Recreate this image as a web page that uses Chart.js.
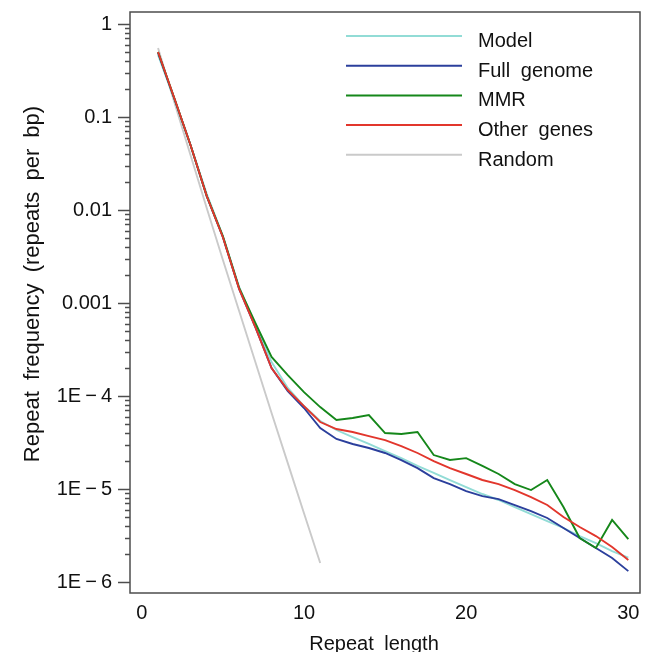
<!DOCTYPE html>
<html>
<head>
<meta charset="utf-8">
<script src="https://cdn.jsdelivr.net/npm/chart.js@4.4.1/dist/chart.umd.min.js"></script>
<style>
  html, body { margin: 0; padding: 0; background: #fff; }
  #wrap { width: 649px; height: 652px; }
</style>
</head>
<body>
<div id="wrap"><canvas id="repeatChart"></canvas></div>
<script>
// repeat length (bp) on x
var repeatLengths = [1,2,3,4,5,6,7,8,9,10,11,12,13,14,15,16,17,18,19,20,21,22,23,24,25,26,27,28,29,30];
var randomLengths = [1,2,3,4,5,6,7,8,9,10,11];

// repeats per bp
var modelFreq = [0.464,0.156,0.050,0.0149,0.00525,0.00149,5.8e-4,2.32e-4,1.22e-4,7.8e-5,
                 5.38e-5,4.31e-5,3.62e-5,3.05e-5,2.56e-5,2.15e-5,1.77e-5,1.49e-5,1.25e-5,1.05e-5,
                 8.84e-6,7.62e-6,6.4e-6,5.38e-6,4.53e-6,3.81e-6,3.12e-6,2.62e-6,2.15e-6,1.83e-6];
var fullGenomeFreq = [0.49,0.158,0.050,0.0141,0.0051,0.00142,5.5e-4,2.0e-4,1.13e-4,7.43e-5,
                 4.53e-5,3.45e-5,3.05e-5,2.76e-5,2.44e-5,2.05e-5,1.68e-5,1.31e-5,1.13e-5,9.5e-6,
                 8.4e-6,7.8e-6,6.73e-6,5.8e-6,4.88e-6,3.81e-6,2.97e-6,2.32e-6,1.81e-6,1.31e-6];
var mmrFreq = [0.50,0.16,0.050,0.0142,0.0052,0.00145,6.1e-4,2.63e-4,1.68e-4,1.10e-4,
                 7.6e-5,5.52e-5,5.8e-5,6.25e-5,4.0e-5,3.9e-5,4.1e-5,2.32e-5,2.05e-5,2.15e-5,
                 1.77e-5,1.45e-5,1.13e-5,9.75e-6,1.25e-5,6.4e-6,2.97e-6,2.32e-6,4.65e-6,2.9e-6];
var otherGenesFreq = [0.50,0.16,0.050,0.0142,0.0051,0.00142,5.5e-4,2.0e-4,1.16e-4,7.8e-5,
                 5.25e-5,4.42e-5,4.1e-5,3.71e-5,3.36e-5,2.9e-5,2.44e-5,2.0e-5,1.68e-5,1.45e-5,
                 1.25e-5,1.13e-5,9.75e-6,8.2e-6,6.73e-6,5.0e-6,3.9e-6,3.12e-6,2.38e-6,1.73e-6];
var randomFreq = [0.552,0.145,0.039,0.0105,0.0029,8.2e-4,2.32e-4,6.57e-5,1.9e-5,5.5e-6,1.6e-6];

var xTickValues = [0, 10, 20, 30];
var yTickValues = [1e-6, 1e-5, 1e-4, 0.001, 0.01, 0.1, 1];
var yTickLabels = ['1E\u2009\u2212\u20096', '1E\u2009\u2212\u20095', '1E\u2009\u2212\u20094', '0.001', '0.01', '0.1', '1'];

var FONT = '"Liberation Sans", Arial, Helvetica, sans-serif';
var AXIS_COLOR = '#4d4d4d';

function pts(xs, ys) {
  return xs.map(function (x, i) { return { x: x, y: ys[i] }; });
}

// box, log tick marks, legend and axis titles
var decorations = {
  id: 'decorations',
  afterDraw: function (chart) {
    var ctx = chart.ctx;
    var a = chart.chartArea;
    var ys = chart.scales.y;
    ctx.save();

    ctx.strokeStyle = AXIS_COLOR;
    ctx.lineWidth = 1.5;
    ctx.strokeRect(a.left, a.top, a.right - a.left, a.bottom - a.top);

    // major + minor ticks on log axis
    for (var d = 0; d < yTickValues.length; d++) {
      var dec = yTickValues[d];
      for (var m = 1; m <= 9; m++) {
        var v = dec * m;
        if (m > 1 && d === yTickValues.length - 1) break;
        var py = Math.round(ys.getPixelForValue(v)) + 0.5;
        var len = (m === 1) ? 12 : 5;
        ctx.beginPath();
        ctx.moveTo(a.left - len, py);
        ctx.lineTo(a.left, py);
        ctx.stroke();
      }
    }

    // legend
    ctx.font = '20px ' + FONT;
    ctx.fillStyle = '#111';
    ctx.textAlign = 'left';
    ctx.textBaseline = 'alphabetic';
    try { ctx.wordSpacing = '5px'; } catch (e) {}
    chart.data.datasets.forEach(function (ds, i) {
      var ly = 36 + i * 29.7;
      ctx.strokeStyle = ds.borderColor;
      ctx.lineWidth = 2;
      ctx.beginPath();
      ctx.moveTo(346, ly);
      ctx.lineTo(462, ly);
      ctx.stroke();
      ctx.fillText(ds.label, 478, ly + 11);
    });

    // axis titles
    ctx.textAlign = 'center';
    ctx.font = '20px ' + FONT;
    ctx.fillText('Repeat length', 374, 650);
    ctx.font = '22px ' + FONT;
    ctx.translate(38.5, 284);
    ctx.rotate(-Math.PI / 2);
    ctx.fillText('Repeat frequency (repeats per bp)', 0, 0);
    ctx.restore();
  }
};

new Chart(document.getElementById('repeatChart'), {
  type: 'line',
  data: {
    datasets: [{
      label: 'Model',
      data: pts(repeatLengths, modelFreq),
      borderColor: '#92dcd6',
      order: 4
    }, {
      label: 'Full genome',
      data: pts(repeatLengths, fullGenomeFreq),
      borderColor: '#2b3f9c',
      order: 3
    }, {
      label: 'MMR',
      data: pts(repeatLengths, mmrFreq),
      borderColor: '#15871a',
      order: 2
    }, {
      label: 'Other genes',
      data: pts(repeatLengths, otherGenesFreq),
      borderColor: '#e2362c',
      order: 1
    }, {
      label: 'Random',
      data: pts(randomLengths, randomFreq),
      borderColor: '#cacaca',
      order: 5
    }]
  },
  options: {
    responsive: true,
    maintainAspectRatio: false,
    animation: false,
    devicePixelRatio: 1,
    layout: { padding: { left: 0, top: 12, right: 9, bottom: 0 } },
    elements: {
      line: { borderWidth: 1.9, tension: 0, fill: false },
      point: { radius: 0, hoverRadius: 0 }
    },
    plugins: {
      legend: { display: false },
      tooltip: { enabled: false }
    },
    scales: {
      x: {
        type: 'linear',
        min: -0.73,
        max: 30.72,
        grid: { display: false, drawTicks: false },
        border: { display: false },
        ticks: {
          padding: 8,
          color: '#111',
          font: { family: FONT, size: 20 },
          autoSkip: false,
          maxRotation: 0
        },
        afterBuildTicks: function (axis) {
          axis.ticks = xTickValues.map(function (v) { return { value: v }; });
        },
        afterFit: function (axis) {
          axis.height = 59;
          axis.paddingLeft = 0;
          axis.paddingRight = 0;
        }
      },
      y: {
        type: 'logarithmic',
        min: 7.62e-7,
        max: 1.347,
        grid: { display: false, drawTicks: false },
        border: { display: false },
        ticks: {
          padding: 18,
          color: '#111',
          font: { family: FONT, size: 20 },
          autoSkip: false,
          callback: function (value, index) { return yTickLabels[index]; }
        },
        afterBuildTicks: function (axis) {
          axis.ticks = yTickValues.map(function (v) { return { value: v }; });
        },
        afterFit: function (axis) {
          axis.width = 130;
          axis.paddingTop = 0;
          axis.paddingBottom = 0;
        }
      }
    }
  },
  plugins: [decorations]
});
</script>
</body>
</html>
